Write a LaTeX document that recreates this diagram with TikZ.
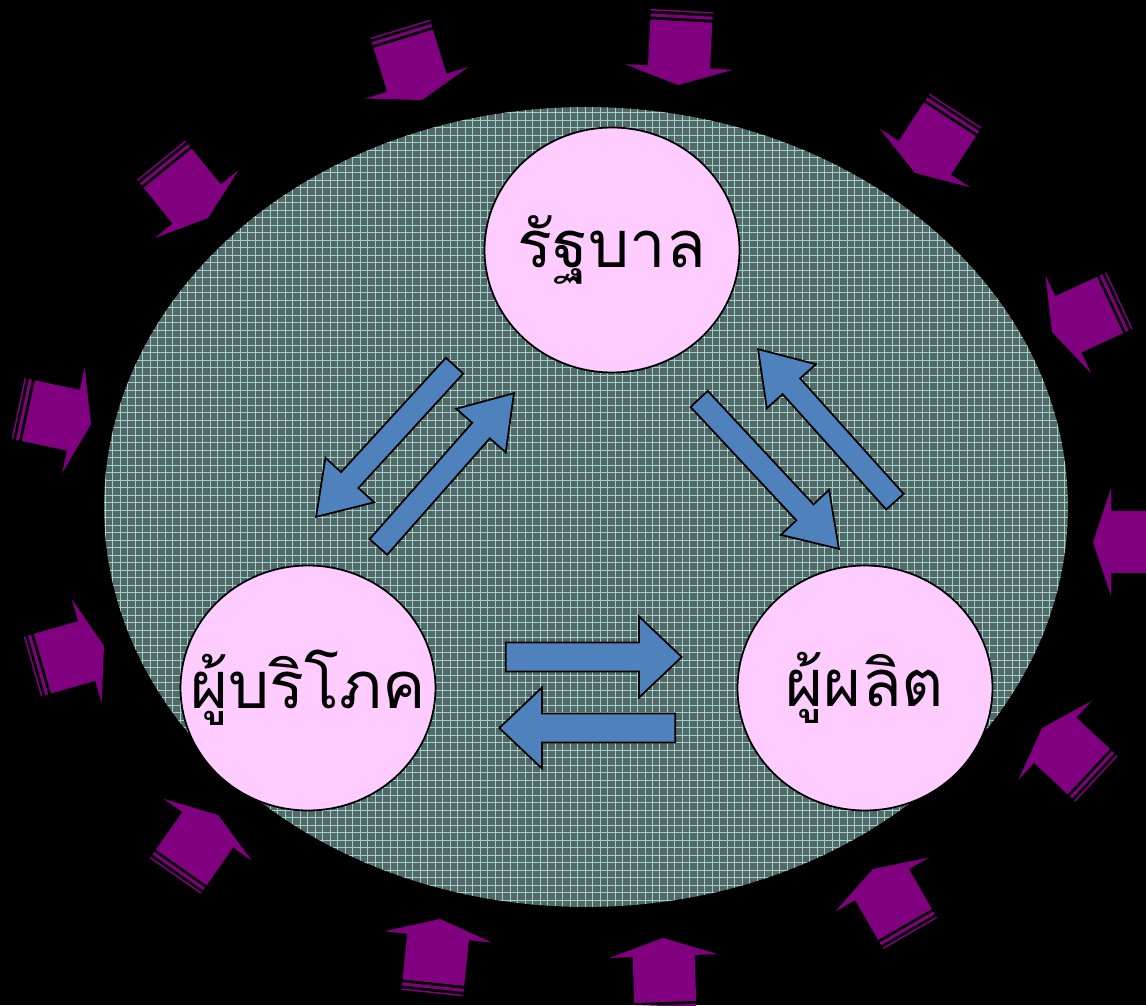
\documentclass[tikz,border=0pt]{standalone}
\usepackage{fontspec}
\newfontfamily\thaifont[Script=Thai]{Loma}
\usepackage{tikz}
\usetikzlibrary{shapes.geometric,shapes.arrows}

\definecolor{pinkfill}{RGB}{255,204,255}
\definecolor{blockblue}{RGB}{79,129,189}
\definecolor{ringpurple}{RGB}{128,0,128}
\definecolor{fieldteal}{RGB}{84,104,104}
\definecolor{gridteal}{RGB}{155,210,203}

\begin{document}
\begin{tikzpicture}[x=0.02cm,y=0.02cm,
  actor/.style={ellipse,draw,line width=1pt,fill=pinkfill,minimum width=5.1cm,minimum height=4.9cm,inner xsep=-0.8cm,inner ysep=0pt,font=\thaifont\fontsize{37}{44}\selectfont},
  flow/.style={single arrow,draw,line width=1pt,fill=blockblue,inner xsep=0pt,single arrow head indent=0pt},
  flowh/.style={flow,inner ysep=0.205cm,minimum height=3.52cm,minimum width=1.62cm,single arrow head extend=0.4cm,single arrow tip angle=87},
  flowd/.style={flow,inner ysep=0.165cm,minimum height=4.1cm,minimum width=1.32cm,single arrow head extend=0.33cm,single arrow tip angle=67},
  pressure/.pic={
    \fill[ringpurple] (0,0) -- (-18,54) -- (-18,31) -- (-64,31) -- (-64,-31) -- (-18,-31) -- (-18,-54) -- cycle;
    \fill[ringpurple] (-67,-31) rectangle (-70,31);
    \fill[ringpurple] (-73,-31) rectangle (-74.5,31);
  }]
\useasboundingbox (0,0) rectangle (1146,1005);
\fill[black] (0,0) rectangle (1146,1005);

% the economy
\fill[fieldteal] (586,498) ellipse [x radius=9.64cm,y radius=8cm];
\begin{scope}
\clip (586,498) ellipse [x radius=9.64cm,y radius=8cm];
\draw[gridteal,line width=0.4pt] (100,95) grid[step=0.15cm] (1070,905);
\end{scope}

% outside pressure
\foreach \x/\y/\a in {422/905/-73, 678/920/-93, 915/832/237, 1052/673/205, 1093/463/180,
  1042/277/137, 873/136/120, 663/67/92, 440/86/84, 218/190/55, 104/359/16, 91/581/-12, 208/787/-51}
  \pic[rotate=\a] at (\x,\y) {pressure};

\node[actor] (gov) at (612,755) {รัฐบาล};
\node[actor] (cons) at (308,317) {ผู้บริโภค};
\node[actor] (prod) at (865,317) {ผู้ผลิต};

% flows
\node[flowh,anchor=tip] (consprod) at (683,348) {};
\node[flowh,anchor=tip,rotate=180] (prodcons) at (498,277) {};
\node[flowd,anchor=tip,rotate=227.5] (govcons) at (315,487) {};
\node[flowd,anchor=tip,rotate=48.6] (consgov) at (515,613) {};
\node[flowd,anchor=tip,rotate=-47] (govprod) at (840,455) {};
\node[flowd,anchor=tip,rotate=131.9] (prodgov) at (757,657) {};
\end{tikzpicture}
\end{document}
